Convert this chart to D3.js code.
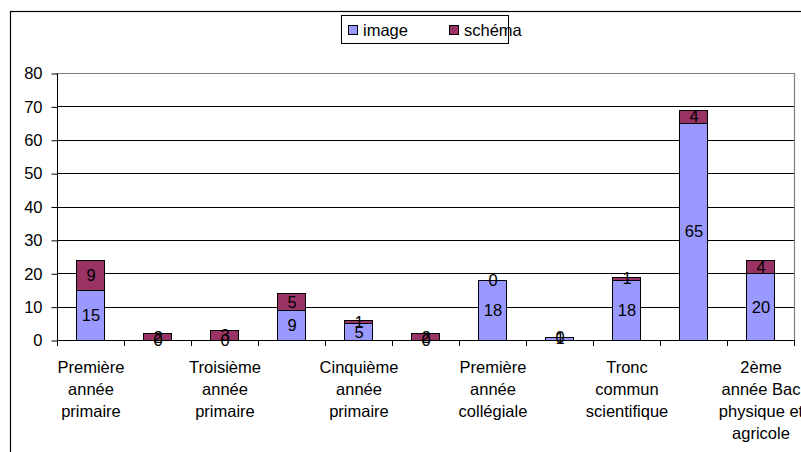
<!DOCTYPE html>
<html>
<head>
<meta charset="utf-8">
<script src="https://cdn.jsdelivr.net/npm/d3@7"></script>
<style>
  html, body { margin: 0; padding: 0; background: #fff; }
  svg { display: block; font-family: "Liberation Sans", Arial, sans-serif; }
</style>
</head>
<body>
<svg id="chart" width="801" height="452"></svg>
<script>
// Niveaux scolaires (une étiquette sur deux est affichée sur l'axe)
const categories = [
  "Première année primaire",
  "Deuxième année primaire",
  "Troisième année primaire",
  "Quatrième année primaire",
  "Cinquième année primaire",
  "Sixième année primaire",
  "Première année collégiale",
  "Troisième année collégiale",
  "Tronc commun scientifique",
  "1ère année Bac",
  "2ème année Bac physique et agricole"
];
const seriesNames = ["image", "schéma"];
const imageValues  = [15, 0, 0, 9, 5, 0, 18, 1, 18, 65, 20];
const schemaValues = [9, 2, 3, 5, 1, 2, 0, 0, 1, 4, 4];
const yTicks = [0, 10, 20, 30, 40, 50, 60, 70, 80];
const colors = ["#9999FF", "#993366"];

const svg = d3.select("#chart");
const plot = { left: 57, right: 794, top: 73, bottom: 340 };
const fontSize = 16.5;

// Cadre du graphique
svg.append("rect")
  .attr("x", 10.5).attr("y", 11.5)
  .attr("width", 820).attr("height", 460)
  .attr("fill", "#fff").attr("stroke", "#000").attr("stroke-width", 1.2);

const x = d3.scaleBand()
  .domain(categories)
  .range([plot.left, plot.right])
  .paddingInner(0.58)
  .paddingOuter(0.29);
const xEdges = d3.scaleBand().domain(categories).range([plot.left, plot.right]).padding(0);
const y = d3.scaleLinear().domain([0, 80]).range([plot.bottom, plot.top]);

// Quadrillage horizontal
svg.append("g")
  .selectAll("line")
  .data(yTicks.filter(t => t > 0 && t < 80))
  .join("line")
  .attr("x1", plot.left).attr("x2", plot.right)
  .attr("y1", d => Math.round(y(d)) + 0.5).attr("y2", d => Math.round(y(d)) + 0.5)
  .attr("stroke", "#000").attr("stroke-width", 1);

// Bordure de la zone de traçage (haut et droite)
svg.append("path")
  .attr("d", `M${plot.left},${plot.top + 0.5}H${plot.right + 0.5}V${plot.bottom}`)
  .attr("fill", "none").attr("stroke", "#808080").attr("stroke-width", 1.2);

// Axe Y
const yAxis = svg.append("g")
  .attr("transform", `translate(${plot.left + 0.5},0.5)`)
  .call(d3.axisLeft(y).tickValues(yTicks).tickSize(6).tickPadding(9).tickFormat(d3.format("d")));
yAxis.select(".domain").attr("stroke", "#000").attr("d", `M0,${plot.top}V${plot.bottom}`);
yAxis.selectAll(".tick line").attr("stroke", "#000");
yAxis.selectAll(".tick text")
  .attr("font-size", fontSize).attr("fill", "#000")
  .attr("font-family", "Liberation Sans, Arial, sans-serif");

// Données empilées
const table = categories.map((c, i) => ({ cat: c, image: imageValues[i], "schéma": schemaValues[i] }));
const stacked = d3.stack().keys(seriesNames)(table);

const bars = svg.append("g");
stacked.forEach((layer, si) => {
  bars.append("g")
    .selectAll("rect")
    .data(layer)
    .join("rect")
    .attr("x", d => Math.round(x(d.data.cat)) + 0.5)
    .attr("width", Math.round(x.bandwidth()))
    .attr("y", d => Math.round(y(d[1])) + 0.5)
    .attr("height", d => Math.max(0, Math.round(y(d[0])) - Math.round(y(d[1]))))
    .attr("fill", colors[si])
    .attr("stroke", "#000").attr("stroke-width", 1);
});

// Axe X (graduations entre catégories)
const xAxisG = svg.append("g");
xAxisG.append("line")
  .attr("x1", plot.left).attr("x2", plot.right + 0.5)
  .attr("y1", plot.bottom + 0.5).attr("y2", plot.bottom + 0.5)
  .attr("stroke", "#000");
const edges = categories.map(c => xEdges(c)).concat([plot.right]);
xAxisG.selectAll("line.tick")
  .data(edges)
  .join("line")
  .attr("class", "tick")
  .attr("x1", d => Math.round(d) + 0.5).attr("x2", d => Math.round(d) + 0.5)
  .attr("y1", plot.bottom).attr("y2", plot.bottom + 6)
  .attr("stroke", "#000");

// Étiquettes de valeurs
stacked.forEach((layer) => {
  svg.append("g")
    .selectAll("text")
    .data(layer)
    .join("text")
    .attr("x", d => x(d.data.cat) + x.bandwidth() / 2 + 0.5)
    .attr("y", d => (y(d[0]) + y(d[1])) / 2)
    .attr("dy", "0.36em")
    .attr("text-anchor", "middle")
    .attr("font-size", fontSize)
    .attr("fill", "#000")
    .text(d => d[1] - d[0]);
});

// Étiquettes de catégories (une sur deux), avec retour à la ligne
const maxLabelWidth = 88;
const labelG = svg.append("g");
categories.forEach((c, i) => {
  if (i % 2 !== 0) return;
  const cx = x(c) + x.bandwidth() / 2 + 0.5;
  const t = labelG.append("text")
    .attr("text-anchor", "middle")
    .attr("font-size", fontSize)
    .attr("fill", "#000");
  const words = c.split(" ");
  let line = [];
  let lineNo = 0;
  let tspan = t.append("tspan").attr("x", cx).attr("y", 373);
  words.forEach(w => {
    line.push(w);
    tspan.text(line.join(" "));
    if (tspan.node().getComputedTextLength() > maxLabelWidth && line.length > 1) {
      line.pop();
      tspan.text(line.join(" "));
      line = [w];
      lineNo++;
      tspan = t.append("tspan").attr("x", cx).attr("y", 373 + lineNo * 22).text(w);
    }
  });
});

// Légende
const legend = svg.append("g");
legend.append("rect")
  .attr("x", 341.5).attr("y", 15.5).attr("width", 167).attr("height", 28)
  .attr("fill", "#fff").attr("stroke", "#000");
const legendItems = [{ name: seriesNames[0], x: 348, color: colors[0] }, { name: seriesNames[1], x: 449, color: colors[1] }];
legendItems.forEach(it => {
  legend.append("rect")
    .attr("x", it.x + 0.5).attr("y", 25.5).attr("width", 9).attr("height", 9)
    .attr("fill", it.color).attr("stroke", "#000");
  legend.append("text")
    .attr("x", it.x + 15).attr("y", 30).attr("dy", "0.36em")
    .attr("font-size", fontSize).attr("fill", "#000")
    .text(it.name);
});
</script>
</body>
</html>
